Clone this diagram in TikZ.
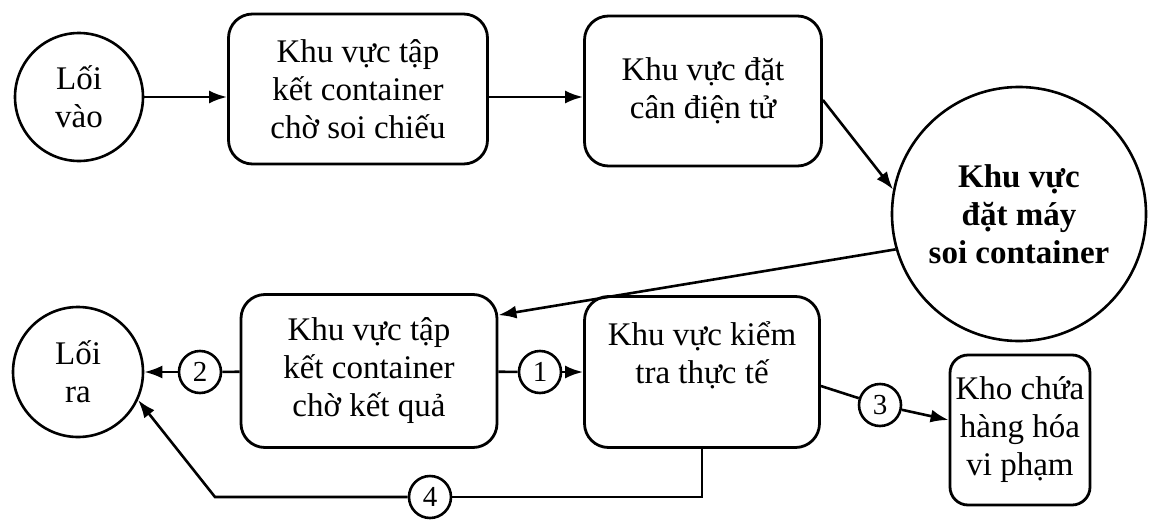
\documentclass[tikz,border=0pt]{standalone}
\usepackage{fontspec}
\setmainfont{Liberation Serif}
\usetikzlibrary{arrows.meta,positioning}

\begin{document}
\begin{tikzpicture}[x=1pt,y=-1pt,
    font=\fontsize{33}{38}\selectfont,
    line width=2.6pt,
    >={Latex[length=18pt,width=13pt]},
    zone/.style={draw,rounded corners=24pt,align=center,line width=2.8pt},
    gate/.style={draw,circle,align=center,inner sep=0pt},
    num/.style={draw,circle,minimum size=42pt,inner sep=0pt,font=\fontsize{29}{29}\selectfont}]
  \useasboundingbox (0,0) rectangle (1161,522);
  \node [gate,minimum size=128pt] (vao) at (79,97) {Lối\\vào};
  \node [zone,minimum width=259pt,minimum height=150pt] (tapket1) at (358,89) {Khu vực tập\\kết container\\chờ soi chiếu};
  \node [zone,minimum width=237pt,minimum height=150pt] (can) at (703,91) {Khu vực đặt\\cân điện tử};
  \node [gate,minimum size=254pt,font=\fontsize{33}{38}\selectfont\bfseries] (soi) at (1019,214) {Khu vực\\đặt máy\\soi container};
  \node [gate,minimum size=130pt] (ra) at (78,372) {Lối\\ra};
  \node [zone,minimum width=256pt,minimum height=153pt] (tapket2) at (369,371) {Khu vực tập\\kết container\\chờ kết quả};
  \node [zone,minimum width=235pt,minimum height=151pt] (kiemtra) at (702,372) {Khu vực kiểm\\tra thực tế\\\mbox{}};
  \node [zone,rounded corners=18pt,minimum width=140pt,minimum height=150pt] (kho) at (1020,430) {Kho chứa\\hàng hóa\\vi phạm};
  \node [num] (n1) at (540,372) {1};
  \node [num] (n2) at (200,372) {2};
  \node [num] (n3) at (880,405) {3};
  \node [num] (n4) at (430,497) {4};
  \coordinate (bend) at (215,497);
  \path [->]
  (vao.east) edge (tapket1.west |- vao.east)
  (tapket1.east |- vao.east) edge (can.west |- vao.east)
  ([yshift=-9pt]can.east) edge (soi.169)
  (soi.196) edge ([yshift=-22pt]tapket2.north east)
  (n1) edge (kiemtra)
  (n2) edge (ra)
  (n3) edge ([yshift=10pt]kho.west);
  \draw (tapket2) -- (n1);
  \draw (tapket2) -- (n2);
  \draw ([yshift=-14pt]kiemtra.east) -- (n3);
  \draw (kiemtra.south) |- (n4);
  \draw [->] (n4) -- (bend) -- (ra.-25);
\end{tikzpicture}
\end{document}
